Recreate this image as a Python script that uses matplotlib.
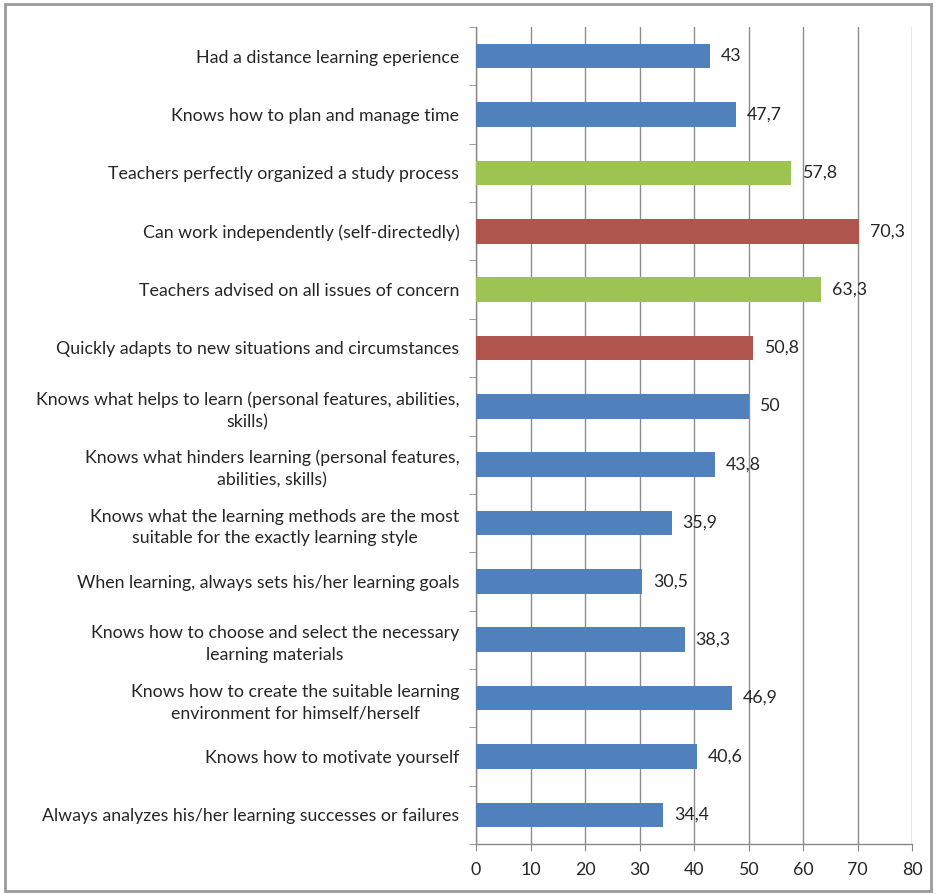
import matplotlib
matplotlib.use("Agg")
import matplotlib.pyplot as plt
from matplotlib.patches import Rectangle
from matplotlib.ticker import FixedLocator

categories = [
    "Had a distance learning eperience",
    "Knows how to plan and manage time",
    "Teachers perfectly organized a study process",
    "Can work independently (self-directedly)",
    "Teachers advised on all issues of concern",
    "Quickly adapts to new situations and circumstances",
    "Knows what helps to learn (personal features, abilities,\nskills)",
    "Knows what hinders learning (personal features,\nabilities, skills)",
    "Knows what the learning methods are the most\nsuitable for the exactly learning style",
    "When learning, always sets his/her learning goals",
    "Knows how to choose and select the necessary\nlearning materials",
    "Knows how to create the suitable learning\nenvironment for himself/herself",
    "Knows how to motivate yourself",
    "Always analyzes his/her learning successes or failures",
]
values = [43, 47.7, 57.8, 70.3, 63.3, 50.8, 50, 43.8, 35.9, 30.5, 38.3, 46.9, 40.6, 34.4]
groups = ["self", "self", "teacher", "key", "teacher", "key",
          "self", "self", "self", "self", "self", "self", "self", "self"]
group_colors = {"self": "#5081BD", "teacher": "#9DC352", "key": "#B0554E"}
x_ticks = [0, 10, 20, 30, 40, 50, 60, 70, 80]

plt.rcParams["font.family"] = ["Lato", "DejaVu Sans"]
FS = 12.8

fig = plt.figure(figsize=(9.36, 8.94), dpi=100)
ax = fig.add_axes([476 / 936, 1 - 844 / 894, 436 / 936, 817 / 894])

n = len(categories)
ypos = list(range(n))
colors = [group_colors[g] for g in groups]
ax.barh(ypos, values, height=0.42, color=colors, zorder=3)

for y, v in zip(ypos, values):
    label = f"{v:g}".replace(".", ",")
    ax.text(v + 2.0, y, label, va="center", ha="left", fontsize=FS,
            color="#262626", zorder=4)

ax.set_xlim(0, 80)
ax.set_ylim(n - 0.5, -0.5)
ax.set_xticks(x_ticks)
ax.set_xticklabels([str(t) for t in x_ticks], fontsize=FS, color="#262626")
ax.set_yticks(ypos)
ax.set_yticklabels(categories, fontsize=FS, color="#262626",
                   multialignment="center", linespacing=1.45)
ax.tick_params(axis="y", which="major", length=0, pad=12)
ax.yaxis.set_minor_locator(FixedLocator([i - 0.5 for i in range(n + 1)]))
ax.tick_params(axis="y", which="minor", length=5, color="#888888", direction="out")
ax.tick_params(axis="x", length=5, color="#888888", direction="out", pad=8)

ax.grid(axis="x", color="#8c8c8c", linewidth=1.0, zorder=0)
for side in ("top", "right"):
    ax.spines[side].set_visible(False)
for side in ("left", "bottom"):
    ax.spines[side].set_color("#888888")
    ax.spines[side].set_linewidth(1.0)

fig.patches.append(Rectangle((5 / 936, 3 / 894), 926 / 936, 887 / 894,
                             transform=fig.transFigure, fill=False,
                             edgecolor="#9a9a9a", linewidth=2))

fig.savefig("out.png", dpi=100)
